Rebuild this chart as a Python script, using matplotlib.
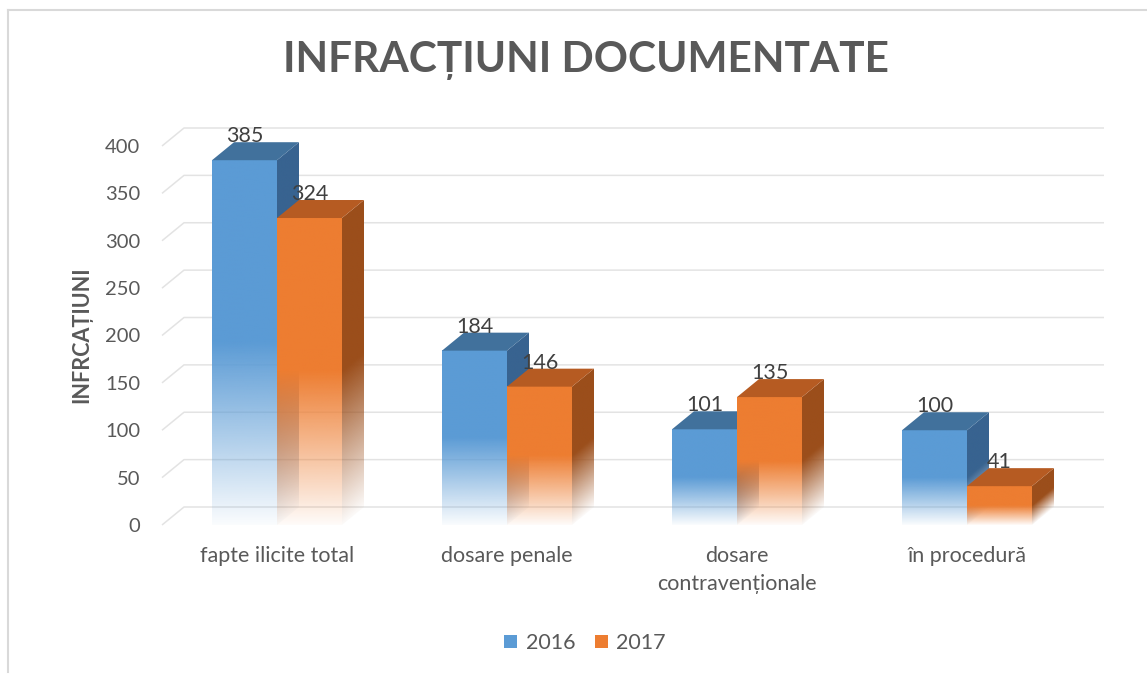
import numpy as np
import matplotlib
matplotlib.use('Agg')
import matplotlib.pyplot as plt
from matplotlib.patches import Polygon, Patch
from matplotlib.lines import Line2D
from matplotlib.colors import to_rgb

categories = ['fapte ilicite total', 'dosare penale', 'dosare\ncontravenționale', 'în procedură']
series_names = ['2016', '2017']
values_2016 = [385, 184, 101, 100]
values_2017 = [324, 146, 135, 41]
yticks = [0, 50, 100, 150, 200, 250, 300, 350, 400]

plt.rcParams['font.family'] = ['Lato', 'DejaVu Sans']
TXT = '#595959'

W, H = 1147, 675
fig = plt.figure(figsize=(W / 100, H / 100), dpi=100)
ax_l, ax_r, ax_t, ax_b = 150, 1112, 110, 540
ax = fig.add_axes([ax_l / W, 1 - ax_b / H, (ax_r - ax_l) / W, (ax_b - ax_t) / H])
px_cat = 230.0
px_val = 379.0 / 400.0
dx = 22 / px_cat
dy = 18 / px_val

for s in ax.spines.values():
    s.set_visible(False)

# back wall gridlines with floor slant
for v in yticks:
    ax.plot([-0.5, -0.5 + dx, 3.5 + dx], [v, v + dy, v + dy], color='#E3E3E3', lw=1.1, zorder=1,
            solid_capstyle='butt')

ax.set_yticks(yticks)
ax.set_yticklabels([str(v) for v in yticks])
ax.tick_params(axis='y', length=0, pad=7, labelsize=14.5, labelcolor=TXT)
ax.set_xticks(range(len(categories)))
xt = ax.set_xticklabels(categories)
for t in xt:
    t.set_linespacing(1.5)
ax.tick_params(axis='x', length=0, pad=4, labelsize=15.5, labelcolor=TXT)

w = 65 / px_cat
styles = {
    '2016': dict(front='#5B9BD5', top='#41719C', side='#386390'),
    '2017': dict(front='#ED7D31', top='#B65B22', side='#9B4E1B'),
}


def alpha_profile(t):
    t = np.asarray(t)
    return np.clip(np.where(t >= 0.5, 1.0, 0.03 + 0.97 * t / 0.5), 0, 1)


def draw_bar(rect, st, z):
    xl = rect.get_x()
    xr = xl + rect.get_width()
    v = rect.get_height()
    # front face gradient
    n = 300
    t = np.linspace(0, 1, n)
    img = np.zeros((n, 1, 4))
    img[:, 0, :3] = to_rgb(st['front'])
    img[:, 0, 3] = alpha_profile(t)
    ax.imshow(img, extent=(xl, xr, 0, v), origin='lower', aspect='auto',
              interpolation='bilinear', zorder=z)
    # side face gradient
    poly = Polygon([(xr, 0), (xr, v), (xr + dx, v + dy), (xr + dx, dy)], closed=True,
                   facecolor='none', edgecolor='none', zorder=z)
    ax.add_patch(poly)
    ny, nx = 300, 30
    ys = np.linspace(0, v + dy, ny)
    xs = np.linspace(xr, xr + dx, nx)
    X, Y = np.meshgrid(xs, ys)
    yf = Y - dy * (X - xr) / dx
    simg = np.zeros((ny, nx, 4))
    simg[:, :, :3] = to_rgb(st['side'])
    simg[:, :, 3] = alpha_profile(np.clip(yf / v, 0, 1))
    im = ax.imshow(simg, extent=(xr, xr + dx, 0, v + dy), origin='lower', aspect='auto',
                   interpolation='bilinear', zorder=z)
    im.set_clip_path(poly)
    # top face
    ax.add_patch(Polygon([(xl, v), (xr, v), (xr + dx, v + dy), (xl + dx, v + dy)], closed=True,
                         facecolor=st['top'], edgecolor='none', zorder=z + 0.01))
    ax.text((xl + xr) / 2, v + dy, str(int(v)), ha='center', va='baseline', fontsize=15.5,
            color='#404040', zorder=20)


x = np.arange(len(categories))
bars16 = ax.bar(x - w / 2, values_2016, w, color='none', edgecolor='none')
bars17 = ax.bar(x + w / 2, values_2017, w, color='none', edgecolor='none')
for i in range(len(categories)):
    draw_bar(bars16[i], styles['2016'], 3 + i * 0.1)
    draw_bar(bars17[i], styles['2017'], 3 + i * 0.1 + 0.05)

ax.set_xlim(-0.5 - (162 - ax_l) / px_cat, 3.5 + (ax_r - 1082) / px_cat)
ax.set_ylim(-(ax_b - 525) / px_val, 400 + (146 - ax_t) / px_val)

fig.text(586 / W, 1 - 61 / H, 'INFRACȚIUNI DOCUMENTATE', ha='center', va='center',
         fontsize=30.5, fontweight='bold', color=TXT)
fig.text(82 / W, 1 - 335 / H, 'INFRCAȚIUNI', rotation=90, ha='center', va='center',
         fontsize=15.5, fontweight='bold', color=TXT)

handles = [Patch(facecolor=styles['2016']['front']), Patch(facecolor=styles['2017']['front'])]
fig.legend(handles, series_names, loc='center', bbox_to_anchor=(585 / W, 1 - 643 / H), ncol=2,
           frameon=False, handlelength=0.6, handleheight=0.6, handletextpad=0.4,
           columnspacing=0.9, fontsize=15.5, labelcolor=TXT)

fig.add_artist(Line2D([8 / W, 8 / W], [0.005, 1 - 10 / H], transform=fig.transFigure,
                      color='#D9D9D9', lw=1.5))
fig.add_artist(Line2D([8 / W, 1], [1 - 10 / H, 1 - 10 / H], transform=fig.transFigure,
                      color='#D9D9D9', lw=1.5))

fig.savefig('out.png', dpi=100)
